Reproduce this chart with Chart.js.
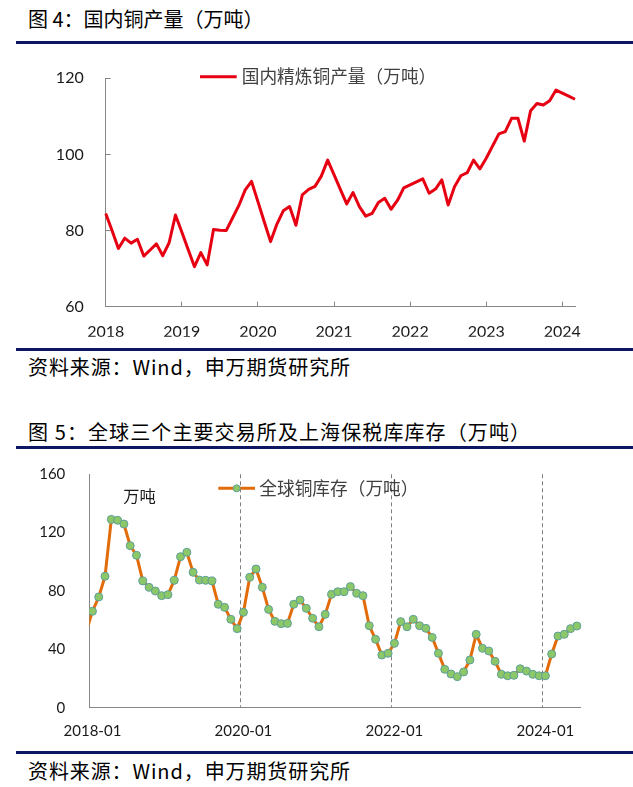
<!DOCTYPE html>
<html>
<head>
<meta charset="utf-8">
<script src="https://cdn.jsdelivr.net/npm/chart.js@4.4.1/dist/chart.umd.min.js"></script>
<style>
  body { margin: 0; width: 633px; height: 787px; background: #fff; position: relative; overflow: hidden; font-family: "Noto Sans CJK SC", sans-serif; }
  .t { position: absolute; left: 28px; font-size: 20px; line-height: 24px; color: #000; white-space: nowrap; }
  .rule { position: absolute; left: 16px; right: 0; height: 3px; background: #0d1660; }
  .box { position: absolute; left: 0; width: 633px; }
</style>
</head>
<body>
<div class="t" style="top:7px">图 4：国内铜产量（万吨）</div>
<div class="rule" style="top:41px"></div>
<div class="box" style="top:50px"><canvas id="c1" width="633" height="295"></canvas></div>
<div class="rule" style="top:348px"></div>
<div class="t" style="top:355px; letter-spacing:0.9px">资料来源：Wind，申万期货研究所</div>
<div class="t" style="top:420px; letter-spacing:1.1px">图 5：全球三个主要交易所及上海保税库库存（万吨）</div>
<div class="rule" style="top:446px"></div>
<div class="box" style="top:455px"><canvas id="c2" width="633" height="293"></canvas></div>
<div class="rule" style="top:751px"></div>
<div class="t" style="top:759px; letter-spacing:0.9px">资料来源：Wind，申万期货研究所</div>

<script>
/**************** data ****************/
function monthLabels(y, m, n) {
  let out = [];
  for (let i = 0; i < n; i++) {
    let yy = y + Math.floor((m - 1 + i) / 12);
    let mm = (m - 1 + i) % 12 + 1;
    out.push(yy + '-' + (mm < 10 ? '0' : '') + mm);
  }
  return out;
}

// chart 1: domestic refined copper output, monthly 2018-01 .. 2024-03
const months1 = monthLabels(2018, 1, 75);
const output1 = [
  84.5, 80.0, 75.3, 78.0, 76.7, 77.7, 73.3, 74.9, 76.5, 73.4, 76.8, 84.1,
  79.6, 75.0, 70.5, 74.2, 71.0, 80.3, 80.1, 80.0, 83.3, 86.6, 90.7, 92.9,
  87.6, 82.3, 77.1, 81.7, 85.2, 86.3, 81.4, 89.4, 90.8, 91.6, 94.3, 98.5,
  94.7, 90.8, 87.0, 90.0, 86.3, 83.8, 84.5, 87.4, 88.5, 85.6, 87.9, 91.2,
  92.0, 92.8, 93.6, 89.8, 90.9, 93.3, 86.7, 91.5, 94.4, 95.2, 98.5, 96.2,
  99.0, 102.2, 105.4, 106.0, 109.5, 109.5, 103.5, 111.5, 113.4, 113.0, 114.1, 116.9,
  116.1, 115.3, 114.5
];
const yTicks1 = [60, 80, 100, 120];

// chart 2: global copper stocks, monthly 2017-12 .. 2024-06 (2017-12 only feeds the clipped edge)
const months2 = monthLabels(2017, 12, 79);
const stock2 = [
  52.0,
  66.1, 75.9, 90.1, 129.1, 128.5, 125.9, 111.1, 104.5, 86.9, 82.5, 80.0, 76.8,
  77.5, 87.3, 103.5, 106.5, 92.8, 87.5, 87.3, 86.9, 70.9, 68.8, 60.6, 54.2,
  65.4, 89.4, 95.1, 82.5, 67.4, 59.2, 57.6, 57.8, 70.9, 73.8, 68.1, 61.3,
  55.5, 64.0, 77.7, 79.5, 79.5, 83.0, 78.4, 76.8, 56.2, 46.9, 36.1, 37.3,
  44.1, 59.0, 55.5, 60.6, 56.2, 54.4, 48.2, 37.3, 26.3, 23.1, 21.3, 24.5,
  32.7, 50.3, 40.7, 38.9, 31.8, 22.9, 21.9, 22.2, 26.7, 25.1, 22.9, 21.9,
  21.9, 36.8, 49.1, 50.3, 54.2, 56.0
];
const xTicks2 = ['2018-01', '2020-01', '2022-01', '2024-01'];
const yTicks2 = [0, 40, 80, 120, 160];

/**************** legend drawn inside the plot ****************/
const inLegend = {
  id: 'inLegend',
  afterDraw(chart, args, o) {
    let ctx = chart.ctx;
    let ds = chart.data.datasets[0];
    ctx.save();
    ctx.strokeStyle = ds.borderColor;
    ctx.lineWidth = ds.borderWidth;
    ctx.beginPath();
    ctx.moveTo(o.x0, o.y);
    ctx.lineTo(o.x1, o.y);
    ctx.stroke();
    if (o.r) {
      ctx.beginPath();
      ctx.arc((o.x0 + o.x1) / 2, o.y, o.r, 0, Math.PI * 2);
      ctx.fillStyle = ds.pointBackgroundColor;
      ctx.fill();
      ctx.lineWidth = ds.pointBorderWidth;
      ctx.strokeStyle = ds.pointBorderColor;
      ctx.stroke();
    }
    ctx.font = o.font;
    ctx.fillStyle = '#404040';
    ctx.textBaseline = 'middle';
    ctx.fillText(ds.label, o.tx, o.y);
    if (o.note) {
      ctx.fillStyle = '#1a1a1a';
      ctx.font = o.noteFont;
      ctx.fillText(o.note, o.nx, o.ny);
    }
    ctx.restore();
  }
};

const axisGray = '#868686';
const tickFont = size => ({ family: 'Lato', size: size });
// fixed axis box, and no label padding pushing the plot inwards
const fixY = w => s => { s.width = w; s.paddingTop = 0; s.paddingBottom = 0; };

/**************** chart 1 ****************/
new Chart(document.getElementById('c1'), {
  type: 'line',
  data: {
    labels: months1,
    datasets: [{
      label: '国内精炼铜产量（万吨）',
      data: output1,
      borderColor: '#E60012',
      borderWidth: 3,
      pointRadius: 0,
      tension: 0,
      borderJoinStyle: 'round'
    }]
  },
  options: {
    responsive: false,
    animation: false,
    layout: { padding: { left: 0, top: 28.3, right: 58, bottom: 8.3 } },
    plugins: {
      legend: { display: false },
      tooltip: { enabled: false },
      inLegend: { x0: 200, x1: 236.7, y: 26.7, tx: 241.7, font: '17.7px "Noto Sans CJK SC"' }
    },
    scales: {
      x: {
        offset: false,
        grid: {
          drawOnChartArea: false,
          tickLength: -5,
          tickColor: c => (c.tick && months1[c.tick.value].endsWith('-01')) ? axisGray : 'rgba(0,0,0,0)'
        },
        border: { color: axisGray },
        ticks: {
          autoSkip: false,
          maxRotation: 0,
          padding: 21,
          color: '#1a1a1a',
          font: tickFont(16),
          callback: function (v) {
            let lab = this.getLabelForValue(v);
            return lab.endsWith('-01') ? lab.slice(0, 4) : '';
          }
        },
        afterFit: s => { s.height = 30; }
      },
      y: {
        min: yTicks1[0],
        max: yTicks1[yTicks1.length - 1],
        grid: { drawOnChartArea: false, tickLength: -5, tickColor: axisGray },
        border: { color: axisGray },
        ticks: { stepSize: yTicks1[1] - yTicks1[0], padding: 27, color: '#1a1a1a', font: tickFont(16) },
        afterFit: fixY(105.7)
      }
    }
  },
  plugins: [inLegend]
});

/**************** chart 2 ****************/
new Chart(document.getElementById('c2'), {
  type: 'line',
  data: {
    labels: months2,
    datasets: [{
      label: '全球铜库存（万吨）',
      data: stock2,
      borderColor: '#E36C0A',
      borderWidth: 3,
      tension: 0,
      borderJoinStyle: 'round',
      pointRadius: c => c.dataIndex === 0 ? 0 : 4,
      pointBackgroundColor: '#8CC867',
      pointBorderColor: '#5E9E9A',
      pointBorderWidth: 1
    }]
  },
  options: {
    responsive: false,
    animation: false,
    layout: { padding: { left: 0, top: 19.3, right: 53, bottom: 10.3 } },
    plugins: {
      legend: { display: false },
      tooltip: { enabled: false },
      inLegend: {
        x0: 218.3, x1: 255, y: 33.3, r: 3.5, tx: 259.3, font: '17.7px "Noto Sans CJK SC"',
        note: '万吨', nx: 123.3, ny: 40.7, noteFont: '16.3px "Noto Sans CJK SC"'
      }
    },
    scales: {
      x: {
        min: '2018-01',
        offset: true,
        grid: {
          offset: true,
          drawTicks: false,
          lineWidth: 1,
          color: c => (c.tick && xTicks2.indexOf(months2[c.tick.value]) > 0) ? '#7f7f7f' : 'rgba(0,0,0,0)'
        },
        border: { color: axisGray, dash: [4, 3] },
        ticks: {
          autoSkip: false,
          maxRotation: 0,
          padding: 14,
          color: '#1a1a1a',
          font: tickFont(15),
          callback: function (v) {
            let lab = this.getLabelForValue(v);
            return xTicks2.includes(lab) ? lab : '';
          }
        },
        afterFit: s => { s.height = 30; }
      },
      y: {
        min: yTicks2[0],
        max: yTicks2[yTicks2.length - 1],
        grid: { display: false },
        border: { color: axisGray },
        ticks: { stepSize: yTicks2[1] - yTicks2[0], padding: 16, color: '#1a1a1a', font: tickFont(15) },
        afterFit: fixY(89.3)
      }
    }
  },
  plugins: [inLegend]
});
</script>
</body>
</html>
